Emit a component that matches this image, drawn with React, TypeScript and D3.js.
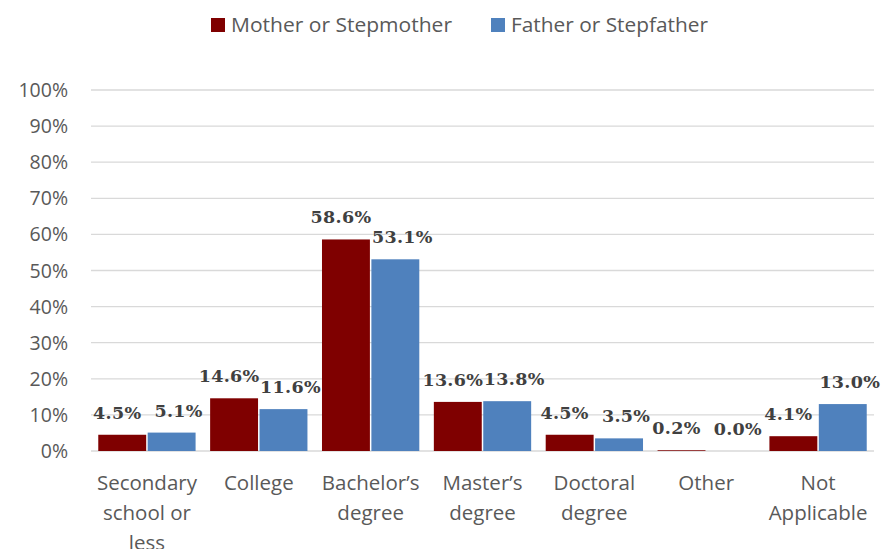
import React from "react";
import * as d3 from "d3";

const categories = [
  ["Secondary", "school or", "less"],
  ["College"],
  ["Bachelor’s", "degree"],
  ["Master’s", "degree"],
  ["Doctoral", "degree"],
  ["Other"],
  ["Not", "Applicable"],
];
const seriesNames = ["Mother or Stepmother", "Father or Stepfather"];
const motherValues = [4.5, 14.6, 58.6, 13.6, 4.5, 0.2, 4.1];
const fatherValues = [5.1, 11.6, 53.1, 13.8, 3.5, 0.0, 13.0];
const yTicks = [0, 10, 20, 30, 40, 50, 60, 70, 80, 90, 100];
const colors = ["#7f0000", "#4f81bd"];

export default function App() {
  const width = 895;
  const height = 549;
  const left = 91;
  const right = 874;
  const top = 90;
  const bottom = 451;

  const x = d3.scaleBand<number>()
    .domain(d3.range(categories.length))
    .range([left, right])
    .paddingInner(0.13)
    .paddingOuter(0.065);
  const inner = d3.scaleBand<number>()
    .domain([0, 1])
    .range([0, x.bandwidth()])
    .paddingInner(0.03);
  const y = d3.scaleLinear().domain([0, 100]).range([bottom, top]);

  const series = [motherValues, fatherValues];
  const grey = "#595959";
  const labelShift = [-5, 7];

  return (
    <svg width={width} height={height} style={{ position: "absolute", left: 0, top: 0 }}
      fontFamily="'Open Sans', 'Noto Sans', sans-serif">
      <rect width={width} height={height} fill="#fff" />
      {/* legend */}
      <rect x={211} y={18} width={14} height={14} fill={colors[0]} />
      <text x={231} y={32} fontSize={20.5} fill={grey} textLength={221} lengthAdjust="spacingAndGlyphs">{seriesNames[0]}</text>
      <rect x={491} y={18} width={14} height={14} fill={colors[1]} />
      <text x={511} y={32} fontSize={20.5} fill={grey} textLength={197} lengthAdjust="spacingAndGlyphs">{seriesNames[1]}</text>

      {yTicks.map(t => (
        <g key={t}>
          <line x1={left} x2={right} y1={y(t)} y2={y(t)} stroke="#d9d9d9" strokeWidth={1.3} />
          <text x={68} y={y(t) + 7} fontSize={19.5} fill={grey} textAnchor="end">{t}%</text>
        </g>
      ))}

      {series.map((vals, s) => vals.map((v, i) => {
        const bx = (x(i) as number) + (inner(s) as number);
        return (
          <rect key={s + "-" + i} x={bx} y={y(v)} width={inner.bandwidth()}
            height={bottom - y(v)} fill={colors[s]} />
        );
      }))}

      {series.map((vals, s) => vals.map((v, i) => {
        const bx = (x(i) as number) + (inner(s) as number) + inner.bandwidth() / 2;
        return (
          <text key={"l" + s + "-" + i} x={bx + labelShift[s]} y={y(v) - 16} fontSize={17.5} fontWeight="bold"
            fontFamily="'DejaVu Serif', serif" fill="#404040" textAnchor="middle" letterSpacing={0.3}>
            {v.toFixed(1)}%
          </text>
        );
      }))}

      {categories.map((lines, i) => (
        <text key={"c" + i} x={(x(i) as number) + x.bandwidth() / 2} fontSize={20.5} fill={grey} textAnchor="middle">
          {lines.map((l, j) => (
            <tspan key={j} x={(x(i) as number) + x.bandwidth() / 2} y={490 + j * 30}>{l}</tspan>
          ))}
        </text>
      ))}
    </svg>
  );
}
